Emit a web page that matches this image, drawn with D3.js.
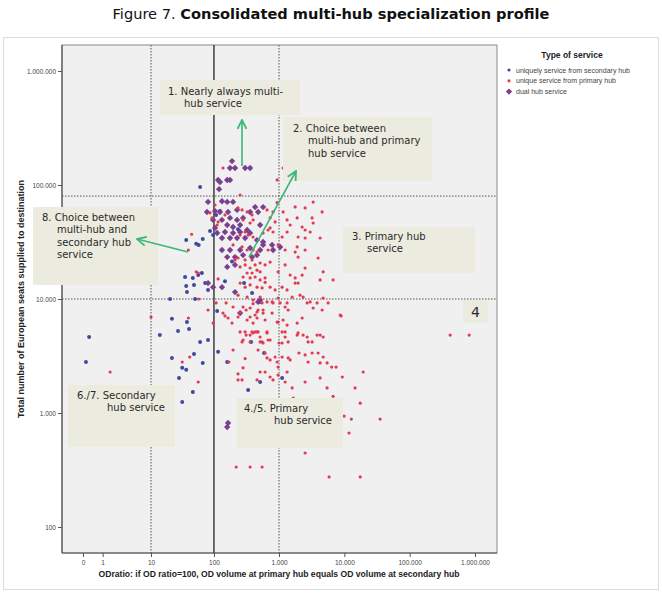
<!DOCTYPE html>
<html>
<head>
<meta charset="utf-8">
<script src="https://cdn.jsdelivr.net/npm/d3@7"></script>
<style>
  body { margin: 0; background: #fff; }
  .chart text { font-family: "Liberation Sans", Arial, sans-serif; }
  .note text { font-family: "DejaVu Sans", Verdana, sans-serif; fill: #2a2a2a; }
</style>
</head>
<body>
<svg class="chart" width="662" height="593"></svg>
<script>
// tick values + labels (european number format)
var xTicks = [0, 1, 10, 100, 1000, 10000, 100000, 1000000];
var xTickLabels = ["0", "1", "10", "100", "1.000", "10.000", "100.000", "1.000.000"];
var yTicks = [100, 1000, 10000, 100000, 1000000];
var yTickLabels = ["100", "1.000", "10.000", "100.000", "1.000.000"];

// reference lines
var xRefDotted = [10, 1000];
var xRefSolid = [100];
var yRefDotted = [10000, 80000];

var seriesNames = ["uniquely service from secondary hub", "unique service from primary hub", "dual hub service"];

// [OD ratio, seats]
var secondary = [
  [61,96000],[37,32900],[67,33600],[53,30500],[58,29800],[87,39500],[97,36400],[124,59200],[108,54600],[235,41000],[190,21300],
  [35.5,15600],[47,15300],[65,16900],[57,16200],[37,13000],[49,13300],[73,13800],[81,12000],[38,11500],
  [20.5,10000],[51,10000],[22,6700],[38,6300],[27.5,5250],[41,5450],[14,4830],[61,4200],[81,4370],
  [0.24,4640],[0.11,2800],[22,3040],[49,3300],[32,2490],[37,2390],[67,2750],[28.5,2030],[47,1530],[32,1250],
  [116,3440],[160,2800],[373,4200],[590,3360],[513,1870],[336,1590],[1115,2030],[112,7850],[148,14300],[291,13800],[386,11300],[513,9400]
];

var primary = [
  [1155,141000],[138,141000],[935,110700],[253,81700],[3330,70900],[2510,62900],[1765,64200],[4570,58000],[1155,58000],
  [3210,51400],[1895,51400],[1330,49400],[1480,44600],[3330,46400],[2260,42800],[2510,40300],[3000,38700],[810,38700],
  [1115,35000],[1330,38700],[1960,35000],[2510,34300],[4260,34300],[968,29800],[1895,28600],[2510,26900],[1240,26900],
  [1765,25800],[3970,22900],[1960,23300],[1240,19900],[968,17300],[1480,16200],[1765,15300],[2260,16200],[2510,18700],
  [4740,17300],[4260,14700],[1765,13800],[1960,13800],[1115,12700],[1330,12000],[2100,10800],[2340,10400],[1590,10400],
  [3000,9420],[4740,10200],[5650,9230],[8630,7240],
  [104,66800],[87,57000],[93,51400],[112,44600],[116,47400],[148,54600],[235,62900],[271,60400],[324,58000],[386,54600],
  [281,49400],[360,46400],[400,49400],[253,36400],[302,38700],[336,36400],[400,35000],[197,29800],[271,28600],[324,26900],
  [400,26900],[460,25800],[235,22900],[211,22000],[302,22000],[386,22000],[513,20700],[612,19900],[730,21100],[680,26900],
  [680,40300],[730,42000],[570,37900],[870,47400],[730,51400],[655,60400],[810,58000],[935,70000],[40,26900],[45,37000],
  [253,19100],[302,19900],[360,18700],[430,19900],[460,17900],[513,17300],[386,16900],[324,16900],[281,15600],[360,15300],
  [430,15600],[513,14700],[612,15300],[253,13800],[302,12700],[360,13300],[460,12700],[550,12500],[612,14000],[730,12700],
  [870,12000],[235,10800],[324,10400],[400,9800],[513,10400],[655,9420],[810,9230],[968,10200],[1240,8510],[1380,8010],
  [197,8510],[253,7690],[281,8510],[360,8340],[460,7690],[570,8010],[783,7530],[138,7530],[165,6810],[235,6950],
  [324,6540],[400,6150],[460,6810],[612,6540],[935,6280],[1155,6540],[302,5140],[360,4830],[460,5140],[513,4640],
  [655,5140],[1115,5140],[1240,4640],[1895,4830],[2700,4640],[3830,4830],[4740,4640],[281,4370],[360,4200],[550,4200],
  [730,4370],[1115,4110],[1380,4200],[3210,4200],
  [40,6810],[42,3100],[32,2800],[57,1870],[81,8010],[97,6150],[10,6950],[1.6,2290],[108,9230],[154,9230],
  [116,15000],[57,16900],[53,17300],[58,10000],[148,7100],[190,6150],[253,5140],[313,4830],[271,4200],[360,6950],
  [430,7240],[478,8010],[570,7530],[550,9230],[783,9420],[313,8010],[400,9100],[386,5140],[430,5140],[478,5140],
  [400,5040],[513,4200],[570,4110],[680,4370],[655,5040],[478,3570],[612,3360],[655,3040],[730,2920],[870,3100],
  [935,2800],[968,2530],[730,2070],[810,1950],[968,2150],[197,3570],[302,3000],[281,2490],[235,2200],[235,1950],
  [271,1950],[460,1950],[513,2290],[612,2290],[170,2800],[220,336],[360,336],[550,336],[968,6280],[1240,5140],
  [1000,4110],[1330,5910],[1040,9230],[1330,9230],[2260,6810],[1895,6150],[1960,5040],[2340,4830],[2790,4200],[4260,4830],
  [2700,9230],[3830,9230],[3330,8340],[4570,8010],[1115,3100],[1380,3040],[1480,2920],[1330,2290],[1240,1870],[1590,1660],
  [2020,3360],[2510,3230],[2790,2800],[3210,3360],[3970,3360],[4260,2750],[4740,3100],[5450,2750],[6400,2530],[7480,2530],
  [9300,2070],[4260,2030],[2510,1870],[5450,1660],[6730,1400],[14600,1660],[17500,1220],[19400,2290],[35300,885],[12800,885],
  [9930,940],[11800,668],[2510,446],[5850,275],[17500,275],[1650,1350],[6730,14700],[8930,7100],[417000,4830],[815000,4830]
];

var dual = [
  [190,162000],[177,141000],[211,141000],[302,141000],[360,141000],
  [116,110700],[124,106000],[160,110700],[177,110700],[120,92000],
  [81,71000],[133,72000],[160,71000],[197,71000],[430,64000],[570,64000],
  [78,58000],[104,59000],[124,58000],[165,58000],[227,60400],[360,58000],[478,58000],
  [97,49400],[133,49400],[177,51400],[227,49400],[281,51400],
  [104,42000],[160,44600],[197,42800],[253,44600],[324,40300],[513,44600],
  [112,37900],[148,38700],[197,37900],[253,38700],[360,37900],
  [133,34300],[177,34300],[227,34300],[302,34300],[460,32900],[570,31600],[570,29800],[783,29800],
  [133,26900],[177,26900],[253,26900],[360,28000],[513,26900],[810,26900],[1040,28600],
  [160,23300],[211,23300],[281,24300],[386,23300],[460,24300],
  [160,19100],[211,19900],
  [81,13800],[97,12700],[133,12700],[211,11500],[513,9800],[253,7530],[478,9420],
  [165,817],[160,753]
];

var colors = ["#3d4a9e", "#e23a52", "#7a3f8e"];

var chart = d3.select(".chart");
var plot = { left: 62, right: 497, top: 45, bottom: 553 };

// OD ratio axis behaves like log10(x+1)
var x = d3.scaleSymlog().constant(1).domain([0, 1000000]).range([83, 475]);
var y = d3.scaleLog().domain([100, 1000000]).range([527, 71]);

// outer frame
chart.append("rect")
  .attr("x", 3.5).attr("y", 37.5)
  .attr("width", 655).attr("height", 552)
  .attr("fill", "none").attr("stroke", "#dcdcdc");

// title
var title = chart.append("text")
  .attr("x", 331).attr("y", 19)
  .attr("text-anchor", "middle")
  .style("font-family", "'DejaVu Sans', Verdana, sans-serif")
  .style("font-size", "14.6px")
  .attr("fill", "#111");
title.append("tspan").text("Figure 7.  ");
title.append("tspan").style("font-weight", "bold").text("Consolidated multi-hub specialization profile");

// plot background
chart.append("rect")
  .attr("x", plot.left).attr("y", plot.top)
  .attr("width", plot.right - plot.left).attr("height", plot.bottom - plot.top)
  .attr("fill", "#f0f0f0").attr("stroke", "#8a8a8a");

// reference lines
chart.selectAll("line.vref")
  .data(xRefDotted.concat(xRefSolid))
  .enter().append("line")
    .attr("class", "vref")
    .attr("x1", function(d){ return x(d); })
    .attr("x2", function(d){ return x(d); })
    .attr("y1", plot.top).attr("y2", plot.bottom)
    .attr("stroke", function(d){ return xRefSolid.indexOf(d) >= 0 ? "#222" : "#555"; })
    .attr("stroke-width", function(d){ return xRefSolid.indexOf(d) >= 0 ? 1.3 : 1; })
    .attr("stroke-dasharray", function(d){ return xRefSolid.indexOf(d) >= 0 ? null : "1.5,1.5"; });

chart.selectAll("line.href")
  .data(yRefDotted)
  .enter().append("line")
    .attr("class", "href")
    .attr("x1", plot.left).attr("x2", plot.right)
    .attr("y1", function(d){ return y(d); })
    .attr("y2", function(d){ return y(d); })
    .attr("stroke", "#555")
    .attr("stroke-dasharray", "1.5,1.5");

// axes
var yAxis = d3.axisLeft(y)
  .tickValues(yTicks)
  .tickFormat(function(d, i){ return yTickLabels[i]; })
  .tickSize(4).tickPadding(2);
var gy = chart.append("g")
  .attr("transform", "translate(" + plot.left + ",0)")
  .call(yAxis);
gy.select(".domain").remove();

var xAxis = d3.axisBottom(x)
  .tickValues(xTicks)
  .tickFormat(function(d, i){ return xTickLabels[i]; })
  .tickSize(4).tickPadding(3);
var gx = chart.append("g")
  .attr("transform", "translate(0," + plot.bottom + ")")
  .call(xAxis);
gx.select(".domain").remove();

chart.selectAll(".tick line").attr("stroke", "#555");
chart.selectAll(".tick text")
  .attr("fill", "#444")
  .style("font-size", "6.5px")
  .style("font-family", "'Liberation Sans', Arial, sans-serif");

chart.append("line")
  .attr("x1", plot.left).attr("x2", plot.left)
  .attr("y1", plot.top).attr("y2", plot.bottom)
  .attr("stroke", "#555").attr("stroke-width", 1.2);
chart.append("line")
  .attr("x1", plot.left).attr("x2", plot.right)
  .attr("y1", plot.bottom).attr("y2", plot.bottom)
  .attr("stroke", "#555").attr("stroke-width", 1.2);

// axis titles
chart.append("text")
  .attr("transform", "translate(24,299) rotate(-90)")
  .attr("text-anchor", "middle")
  .style("font-size", "9px").style("font-weight", "bold")
  .attr("fill", "#222")
  .text("Total number of European seats supplied to destination");

chart.append("text")
  .attr("x", 279).attr("y", 577)
  .attr("text-anchor", "middle")
  .style("font-size", "8.6px").style("font-weight", "bold")
  .attr("fill", "#222")
  .text("ODratio: if OD ratio=100, OD volume at primary hub equals OD volume at secondary hub");

// points
var dots = chart.append("g");

dots.selectAll("circle.sec")
  .data(secondary)
  .enter().append("circle")
    .attr("class", "sec")
    .attr("cx", function(d){ return x(d[0]); })
    .attr("cy", function(d){ return y(d[1]); })
    .attr("r", 2)
    .attr("fill", colors[0]);

dots.selectAll("path.dual")
  .data(dual)
  .enter().append("path")
    .attr("class", "dual")
    .attr("d", d3.symbol().type(d3.symbolSquare).size(20))
    .attr("transform", function(d){ return "translate(" + x(d[0]) + "," + y(d[1]) + ") rotate(45)"; })
    .attr("fill", colors[2]);

dots.selectAll("circle.pri")
  .data(primary)
  .enter().append("circle")
    .attr("class", "pri")
    .attr("cx", function(d){ return x(d[0]); })
    .attr("cy", function(d){ return y(d[1]); })
    .attr("r", 1.6)
    .attr("fill", colors[1]);

// annotation boxes (pixel layout)
var notes = [
  { box: [160, 80, 140, 35], x: 168, y: 95, indent: 16, lines: ["1. Nearly always multi-", "hub service"] },
  { box: [283, 117, 149, 64], x: 293, y: 132, indent: 15, lines: ["2. Choice between", "multi-hub and primary", "hub service"] },
  { box: [33, 207, 125, 78], x: 42, y: 221, indent: 15, lines: ["8. Choice between", "multi-hub and", "secondary hub", "service"] },
  { box: [343, 227, 132, 46], x: 352, y: 240, indent: 15, lines: ["3. Primary hub", "service"] },
  { box: [68, 385, 107, 62], x: 77, y: 399, indent: 30, lines: ["6./7. Secondary", "hub service"] },
  { box: [237, 398, 106, 50], x: 244, y: 412, indent: 30, lines: ["4./5. Primary", "hub service"] }
];

var noteG = chart.selectAll("g.note")
  .data(notes)
  .enter().append("g")
    .attr("class", "note");

noteG.append("rect")
  .attr("x", function(d){ return d.box[0]; })
  .attr("y", function(d){ return d.box[1]; })
  .attr("width", function(d){ return d.box[2]; })
  .attr("height", function(d){ return d.box[3]; })
  .attr("fill", "#ecebdf");

noteG.each(function(d){
  var t = d3.select(this).append("text").style("font-size", "10px");
  d.lines.forEach(function(line, i){
    t.append("tspan")
      .attr("x", i === 0 ? d.x : d.x + d.indent)
      .attr("y", d.y + i * 12.3)
      .text(line);
  });
});

// the lone "4" label
var four = chart.append("g").attr("class", "note");
four.append("rect").attr("x", 463).attr("y", 300).attr("width", 25).attr("height", 23).attr("fill", "#ecebdf");
four.append("text").attr("x", 475.5).attr("y", 317).attr("text-anchor", "middle")
  .style("font-size", "14px").text("4");

// green arrows
var defs = chart.append("defs");
defs.append("marker")
  .attr("id", "head")
  .attr("viewBox", "0 0 10 10")
  .attr("refX", 9).attr("refY", 5)
  .attr("markerWidth", 7).attr("markerHeight", 7)
  .attr("orient", "auto")
  .append("path")
    .attr("d", "M1,1 L9,5 L1,9")
    .attr("fill", "none")
    .attr("stroke", "#3cb679")
    .attr("stroke-width", 1.6);

var arrows = [
  [[242, 166], [242, 120]],
  [[249, 257], [296, 171]],
  [[188, 252], [137, 239]]
];
chart.selectAll("line.arrow")
  .data(arrows)
  .enter().append("line")
    .attr("class", "arrow")
    .attr("x1", function(d){ return d[0][0]; })
    .attr("y1", function(d){ return d[0][1]; })
    .attr("x2", function(d){ return d[1][0]; })
    .attr("y2", function(d){ return d[1][1]; })
    .attr("stroke", "#3cb679")
    .attr("stroke-width", 1.6)
    .attr("marker-end", "url(#head)");

// legend
var legend = chart.append("g");
legend.append("text")
  .attr("x", 572).attr("y", 58)
  .attr("text-anchor", "middle")
  .style("font-size", "8.5px").style("font-weight", "bold")
  .attr("fill", "#222")
  .text("Type of service");

var item = legend.selectAll("g.item")
  .data(seriesNames)
  .enter().append("g")
    .attr("class", "item")
    .attr("transform", function(d, i){ return "translate(509," + (70 + i * 10.8) + ")"; });

item.append("path")
  .attr("d", function(d, i){
    return i === 2 ? d3.symbol().type(d3.symbolSquare).size(20)() : d3.symbol().type(d3.symbolCircle).size(8)();
  })
  .attr("transform", function(d, i){ return i === 2 ? "rotate(45)" : null; })
  .attr("fill", function(d, i){ return colors[i]; });

item.append("text")
  .attr("x", 7).attr("y", 2.5)
  .style("font-size", "7px")
  .attr("fill", "#444")
  .text(function(d){ return d; });
</script>
</body>
</html>
